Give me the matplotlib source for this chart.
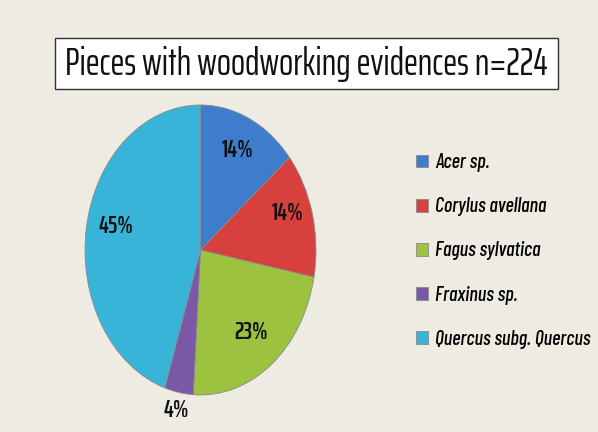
import matplotlib
matplotlib.use("Agg")
import matplotlib.pyplot as plt
from matplotlib.patches import Rectangle
import numpy as np

title = "Pieces with woodworking evidences n=224"
species = ["Acer sp.", "Corylus avellana", "Fagus sylvatica", "Fraxinus sp.", "Quercus subg. Quercus"]
percent = [14, 14, 23, 4, 45]
colors = ["#3f7dcc", "#d8403d", "#9cc23f", "#7b58a6", "#38b4d9"]

TFONT = ["Saira ExtraCondensed", "DejaVu Sans"]
LFONT = ["Barlow Condensed", "Saira ExtraCondensed", "DejaVu Sans"]
bg = "#eeebe3"

fig = plt.figure(figsize=(5.98, 4.32), dpi=100, facecolor=bg)

# title box
tax = fig.add_axes([0, 0, 1, 1], facecolor="none")
tax.set_xlim(0, 598); tax.set_ylim(432, 0); tax.axis("off")
tax.add_patch(Rectangle((55, 38), 503, 51, facecolor="white", edgecolor="#333333", lw=1.0))
tax.text(306, 64, title, ha="center", va="center", fontsize=27, family=TFONT, color="#111111")

# pie (ellipse via non-equal aspect)
ax = fig.add_axes([85/598, (432-395)/432, 231/598, 290/432], facecolor="none")
wedges, texts, autotexts = ax.pie(
    percent, colors=colors, startangle=90, counterclock=False,
    autopct=lambda p: f"{p:.0f}%", pctdistance=0.76,
    wedgeprops=dict(edgecolor="#8a8a8a", linewidth=0.6),
    textprops=dict(fontsize=18, family=TFONT, fontweight="semibold", color="#111111"))
ax.set_aspect("auto")
ax.set_xlim(-1, 1); ax.set_ylim(-1, 1)

# slight label adjustments (radial factor, vertical shift in axes units)
adj = [(0.76, 0.0), (0.78, 0.06), (0.72, 0.0), (1.12, 0.0), (0.74, 0.05)]
for w, t, (r, dy) in zip(wedges, autotexts, adj):
    ang = np.deg2rad((w.theta1 + w.theta2) / 2)
    t.set_position((r * np.cos(ang), r * np.sin(ang) + dy))

leg = fig.legend(wedges, species, loc="upper left", bbox_to_anchor=(408/598, 1 - 145/432),
                 frameon=False, handlelength=0.6, handleheight=0.6, handletextpad=0.35,
                 labelspacing=1.25, borderaxespad=0,
                 prop=dict(family=LFONT, style="italic", weight="medium", size=14.5))

fig.savefig("out.png", dpi=100, facecolor=bg)
